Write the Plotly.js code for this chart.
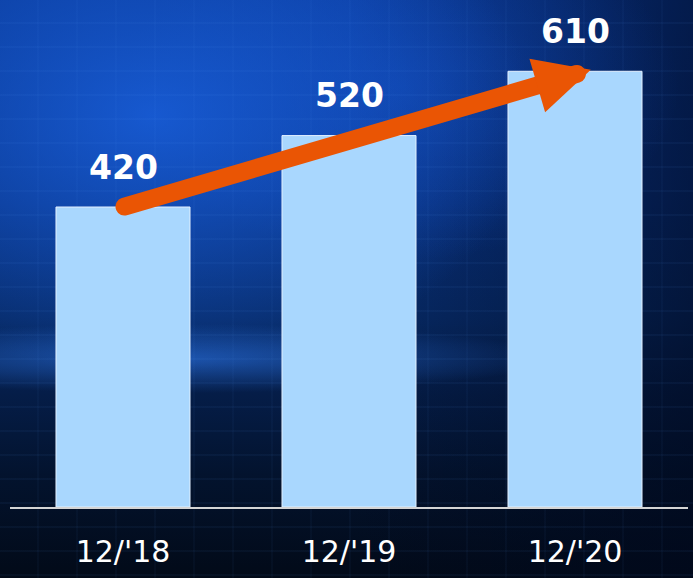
<!DOCTYPE html>
<html>
<head>
<meta charset="utf-8">
<script src="https://cdn.plot.ly/plotly-3.0.1.min.js"></script>
<style>
  html, body { margin: 0; padding: 0; }
  body {
    width: 693px; height: 578px; overflow: hidden;
    background:
      repeating-linear-gradient(to bottom, rgba(90,160,255,0.00) 0px, rgba(90,160,255,0.00) 22px, rgba(90,160,255,0.10) 23px, rgba(90,160,255,0.00) 24px),
      repeating-linear-gradient(to right, rgba(90,160,255,0.00) 0px, rgba(90,160,255,0.00) 37px, rgba(90,160,255,0.07) 38px, rgba(90,160,255,0.00) 39px),
      radial-gradient(ellipse 55% 6% at 25% 62%, rgba(50,130,255,0.5), rgba(50,130,255,0) 100%),
      radial-gradient(ellipse 55% 45% at 22% 20%, rgba(25,95,220,0.85), rgba(25,95,220,0) 100%),
      radial-gradient(ellipse 40% 30% at 58% 15%, rgba(20,80,200,0.5), rgba(20,80,200,0) 100%),
      linear-gradient(to right, rgba(0,0,0,0) 50%, rgba(0,8,28,0.6) 100%),
      linear-gradient(to bottom, #093894 0%, #08317f 35%, #072a66 55%, #051d48 68%, #03132e 82%, #020a18 100%);
  }
  #chart { width: 693px; height: 578px; }
  .annotation-arrow-g path { stroke-linecap: round; }
</style>
</head>
<body>
<div id="chart"></div>
<script>
var categories = ["12/'18", "12/'19", "12/'20"];
var values = [420, 520, 610];
var valueLabels = ["420", "520", "610"];

var trace = {
  type: 'bar',
  x: [0, 1, 2],
  y: values,
  marker: { color: '#A9D7FE', line: { color: '#E3F0FF', width: 1 } },
  hoverinfo: 'none'
};

var annotations = values.map(function (v, i) {
  return {
    x: i, y: v, xref: 'x', yref: 'y',
    text: '<b>' + valueLabels[i] + '</b>',
    showarrow: false, yanchor: 'middle', yshift: 40,
    font: { family: 'DejaVu Sans', size: 33, color: '#FFFFFF' }
  };
});

annotations.push({
  x: 2.07, y: values[2] + 2, xref: 'x', yref: 'y',
  ax: 0, ay: values[0], axref: 'x', ayref: 'y',
  text: '', showarrow: true,
  arrowhead: 2, arrowsize: 0.62, arrowwidth: 18, arrowcolor: '#EA5504'
});

var layout = {
  width: 693, height: 578,
  margin: { l: 10, r: 5, t: 7, b: 71 },
  paper_bgcolor: 'rgba(0,0,0,0)',
  plot_bgcolor: 'rgba(0,0,0,0)',
  showlegend: false,
  bargap: 0.407,
  xaxis: {
    range: [-0.5, 2.5],
    tickmode: 'array', tickvals: [0, 1, 2], ticktext: categories,
    showgrid: false, zeroline: false,
    showline: true, linecolor: '#D4D4D4', linewidth: 2,
    ticks: '', ticklabelstandoff: 17,
    tickfont: { family: 'DejaVu Sans', size: 30, color: '#FFFFFF' },
    fixedrange: true
  },
  yaxis: { range: [0, 700], visible: false, fixedrange: true },
  annotations: annotations
};

Plotly.newPlot('chart', [trace], layout, { displayModeBar: false, staticPlot: true });
</script>
</body>
</html>
